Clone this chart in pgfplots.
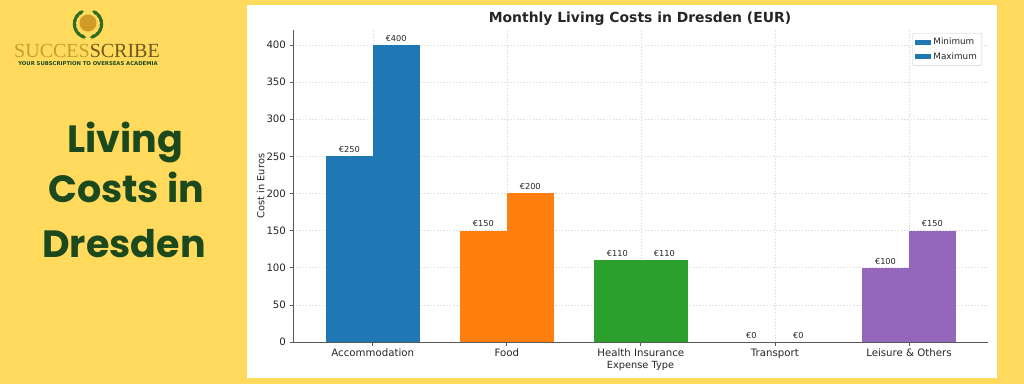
\documentclass[border=0pt]{standalone}
\usepackage{pgfplots}
\pgfplotsset{compat=1.18}
\usetikzlibrary{calc}
\usepackage{fontspec}
\setmainfont{DejaVu Sans}
\newfontfamily\poppins{Poppins}
\newfontfamily\logoserif{Liberation Serif}
\definecolor{bgyellow}{RGB}{255,218,92}
\definecolor{dkgreen}{RGB}{28,72,30}
\definecolor{leafgreen}{RGB}{46,110,35}
\definecolor{gold}{RGB}{196,160,48}
\definecolor{olive}{RGB}{110,90,30}
\definecolor{txt}{RGB}{38,38,38}
\definecolor{tabblue}{HTML}{1F77B4}
\definecolor{taborange}{HTML}{FF7F0E}
\definecolor{tabgreen}{HTML}{2CA02C}
\definecolor{tabred}{HTML}{D62728}
\definecolor{tabpurple}{HTML}{9467BD}
\begin{document}
\begin{tikzpicture}
% background
\fill[bgyellow] (0pt,0pt) rectangle (1024pt,384pt);
\fill[white] (247pt,6pt) rectangle (997pt,379pt);
% logo wreath
\foreach \a in {125,145,165,185,205,225,245} {
  \fill[leafgreen, shift={(88pt,360pt)}, rotate=\a] (13.5pt,0pt) ellipse (1.8pt and 3.8pt);
}
\foreach \a in {55,35,15,-5,-25,-45,-65} {
  \fill[leafgreen, shift={(88pt,360pt)}, rotate=\a] (13.5pt,0pt) ellipse (1.8pt and 3.8pt);
}
\fill[gold!80!orange] (88pt,361pt) circle (8.5pt);
\node[font=\logoserif\fontsize{20}{22}\selectfont, inner sep=0pt, anchor=base] at (87pt,327pt) {\textcolor{gold}{SUCCES}\textcolor{olive}{SCRIBE}};
\node[font=\bfseries\fontsize{5.3}{6}\selectfont, text=dkgreen, inner sep=0pt] at (88pt,320pt) {YOUR SUBSCRIPTION TO OVERSEAS ACADEMIA};
% big title
\node[font=\poppins\bfseries\fontsize{38}{38}\selectfont, text=dkgreen, anchor=base, inner sep=0pt] at (125pt,232pt) {Living};
\node[font=\poppins\bfseries\fontsize{38}{38}\selectfont, text=dkgreen, anchor=base, inner sep=0pt] at (126pt,182pt) {Costs in};
\node[font=\poppins\bfseries\fontsize{38}{38}\selectfont, text=dkgreen, anchor=base, inner sep=0pt] at (124pt,127pt) {Dresden};
% chart title
\node[font=\bfseries\fontsize{13.9}{15}\selectfont, text=txt] at (640pt,365pt) {Monthly Living Costs in Dresden (EUR)};
\begin{axis}[
  at={(293pt,42pt)}, anchor=south west,
  width=695pt, height=312pt, scale only axis,
  ybar, enlargelimits=false,
  xmin=-0.595, xmax=4.59, ymin=0, ymax=420,
  xtick={0,1,2,3,4},
  xticklabels={Accommodation,Food,Health Insurance,Transport,Leisure \& Others},
  ytick={0,50,100,150,200,250,300,350,400},
  axis x line*=bottom, axis y line*=left,
  axis line style={draw=black!65, line width=0.8pt},
  tick style={draw=black!65, line width=0.7pt},
  tick align=outside, major tick length=3.5pt,
  grid=major,
  major grid style={draw=black!12, dash pattern=on 1.6pt off 1.6pt, line width=0.5pt},
  ticklabel style={font=\fontsize{10.2}{12}\selectfont, text=txt},
  /pgf/number format/assume math mode=true,
  xlabel={Expense Type}, ylabel={Cost in Euros},
  label style={font=\fontsize{9.8}{11}\selectfont, text=txt},
  xlabel style={yshift=4pt},
  ylabel style={yshift=-5pt},
  bar width=0.35,
  nodes near coords={€\pgfmathprintnumber{\pgfplotspointmeta}},
  every node near coord/.append style={font=\fontsize{8.2}{9}\selectfont, text=txt},
  legend style={at={(1,1)}, anchor=north east, xshift=-6pt, yshift=-3pt,
    font=\fontsize{8.8}{10}\selectfont, text=txt, draw=black!20, rounded corners=2pt,
    row sep=2pt, inner sep=3pt},
  legend cell align=left,
  legend image code/.code={\fill[#1, sharp corners] (0pt,-2.6pt) rectangle (16pt,2.6pt);},
]
\addplot[fill=tabblue, draw=none, bar shift=-0.175] coordinates {(0,250)};
\addlegendentry{Minimum}
\addplot[fill=tabblue, draw=none, bar shift=0.175] coordinates {(0,400)};
\addlegendentry{Maximum}
\addplot[fill=taborange, draw=none, bar shift=-0.175, forget plot] coordinates {(1,150)};
\addplot[fill=taborange, draw=none, bar shift=0.175, forget plot] coordinates {(1,200)};
\addplot[fill=tabgreen, draw=none, bar shift=-0.175, forget plot] coordinates {(2,110)};
\addplot[fill=tabgreen, draw=none, bar shift=0.175, forget plot] coordinates {(2,110)};
\addplot[fill=none, draw=none, bar shift=-0.175, forget plot] coordinates {(3,0)};
\addplot[fill=none, draw=none, bar shift=0.175, forget plot] coordinates {(3,0)};
\addplot[fill=tabpurple, draw=none, bar shift=-0.175, forget plot] coordinates {(4,100)};
\addplot[fill=tabpurple, draw=none, bar shift=0.175, forget plot] coordinates {(4,150)};
\end{axis}
\end{tikzpicture}
\end{document}
